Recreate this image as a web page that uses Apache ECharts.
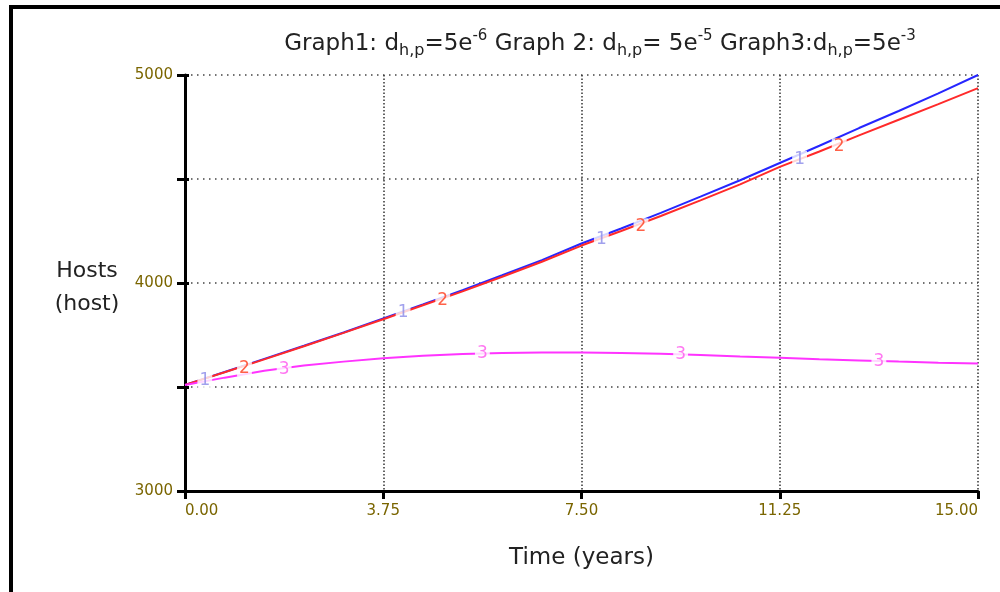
<!DOCTYPE html>
<html>
<head>
<meta charset="utf-8">
<script src="https://cdn.jsdelivr.net/npm/echarts@6/dist/echarts.min.js"></script>
<style>html,body{margin:0;padding:0;background:#fff}#c{width:1000px;height:592px}</style>
</head>
<body>
<div id="c"></div>
<script>
// ---- data ----
var times = [0, 0.75, 1.5, 2.25, 3, 3.75, 4.5, 5.25, 6, 6.75, 7.5, 8.25, 9, 9.75, 10.5, 11.25, 12, 12.75, 13.5, 14.25, 15];
var graph1 = [3510, 3572, 3635, 3698, 3762, 3830, 3897, 3966, 4037, 4110, 4190, 4262, 4337, 4415, 4494, 4577, 4660, 4745, 4827, 4912, 5000];
var graph2 = [3510, 3571, 3633, 3696, 3760, 3826, 3893, 3960, 4030, 4102, 4180, 4250, 4322, 4397, 4474, 4558, 4632, 4710, 4785, 4860, 4937];
var graph3 = [3510, 3545, 3578, 3603, 3622, 3638, 3650, 3659, 3664, 3666, 3666, 3664, 3660, 3654, 3647, 3641, 3634, 3628, 3622, 3617, 3613];
// line-number markers (time, value)
var mark1Times = [0.375, 4.125, 7.875, 11.625];
var mark1Values = [3530, 3856, 4210, 4595];
var mark2Times = [1.125, 4.875, 8.625, 12.375];
var mark2Values = [3590, 3915, 4270, 4655];
var mark3Times = [1.875, 5.625, 9.375, 13.125];
var mark3Values = [3585, 3660, 3657, 3622];
var xTicks = [0, 3.75, 7.5, 11.25, 15];
var yTicks = [3000, 3500, 4000, 4500, 5000];
// ---------------------------------------

function pairs(xs, ys) { return xs.map(function (x, i) { return [x, ys[i]]; }); }

var tickColor = '#7a6500';
var bigFont = 'DejaVu Sans';
var chart = echarts.init(document.getElementById('c'), null, { renderer: 'canvas' });

function lineSeries(name, data, color) {
  return {
    name: name, type: 'line', data: pairs(times, data), showSymbol: false, smooth: false,
    lineStyle: { color: color, width: 2 }, itemStyle: { color: color }, z: 3, silent: true
  };
}
function markSeries(label, xs, ys, color) {
  return {
    type: 'scatter', data: pairs(xs, ys), symbolSize: 1, itemStyle: { color: 'rgba(0,0,0,0)' }, z: 5, silent: true,
    label: {
      show: true, position: 'inside', formatter: label, color: color,
      fontFamily: 'DejaVu Sans', fontSize: 17, backgroundColor: '#fff', padding: [0, 2, 0, 2]
    }
  };
}

var option = {
  backgroundColor: '#fff',
  animation: false,
  title: {
    text: 'Graph1: d{sub|h,p}=5e{sup|-6} Graph 2: d{sub|h,p}= 5e{sup|-5} Graph3:d{sub|h,p}=5e{sup|-3}',
    left: 595, top: 24, textAlign: 'center',
    textStyle: {
      fontFamily: bigFont, fontSize: 23, fontWeight: 'normal', color: '#222', lineHeight: 30,
      rich: {
        sub: { fontFamily: bigFont, fontSize: 16, color: '#222', verticalAlign: 'bottom', lineHeight: 16, padding: [6, 0, 0, 0] },
        sup: { fontFamily: bigFont, fontSize: 15, color: '#222', verticalAlign: 'top', lineHeight: 15 }
      }
    }
  },
  graphic: [
    { type: 'rect', shape: { x: 9, y: 5, width: 991, height: 4 }, style: { fill: '#000' } },
    { type: 'rect', shape: { x: 9, y: 5, width: 4, height: 587 }, style: { fill: '#000' } }
  ],
  grid: { left: 185, right: 22, top: 75, bottom: 101, containLabel: false },
  xAxis: {
    type: 'value', min: 0, max: 15, interval: 3.75,
    name: 'Time (years)', nameLocation: 'middle', nameGap: 56,
    nameTextStyle: { fontFamily: bigFont, fontSize: 23, color: '#222' },
    axisLine: { show: true, onZero: false, lineStyle: { color: '#000', width: 3 } },
    axisTick: { show: true, length: 8, lineStyle: { color: '#000', width: 3 } },
    axisLabel: {
      color: tickColor, fontFamily: 'DejaVu Sans', fontSize: 15, margin: 13,
      alignMinLabel: 'left', alignMaxLabel: 'right',
      formatter: function (v) { return v.toFixed(2); }
    },
    splitLine: { show: true, lineStyle: { color: '#333', width: 1.5, type: [1.5, 2] } }
  },
  yAxis: [{
    type: 'value', min: 3000, max: 5000, interval: 500,
    name: '{p| }\nHosts\n(host)', nameLocation: 'middle', nameGap: 98, nameRotate: 0,
    nameTextStyle: {
      fontFamily: bigFont, fontSize: 22, color: '#222', lineHeight: 33, align: 'center', verticalAlign: 'middle',
      rich: { p: { fontSize: 2, lineHeight: 10 } }
    },
    axisLine: { show: true, onZero: false, lineStyle: { color: '#000', width: 3 } },
    axisTick: { show: true, length: 8, lineStyle: { color: '#000', width: 3 } },
    axisLabel: {
      color: tickColor, fontFamily: 'DejaVu Sans', fontSize: 15, margin: 12,
      formatter: function (v) { return (v % 1000 === 0) ? String(v) : ''; }
    },
    splitLine: { show: true, lineStyle: { color: '#444', width: 1.5, type: [1.5, 4.5] } }
  }, {
    type: 'value', min: 3000, max: 5000, interval: 500, position: 'left',
    axisLine: { show: false }, axisLabel: { show: false }, splitLine: { show: false },
    axisTick: { show: true, inside: true, length: 4, lineStyle: { color: '#000', width: 3 } }
  }],
  series: [
    lineSeries('Graph1', graph1, '#2626ff'),
    lineSeries('Graph2', graph2, '#ff2a2a'),
    lineSeries('Graph3', graph3, '#ff33ff'),
    markSeries('1', mark1Times, mark1Values, '#8a8ae8'),
    markSeries('2', mark2Times, mark2Values, '#ff3a1a'),
    markSeries('3', mark3Times, mark3Values, '#ff55ee')
  ]
};
chart.setOption(option);
</script>
</body>
</html>
